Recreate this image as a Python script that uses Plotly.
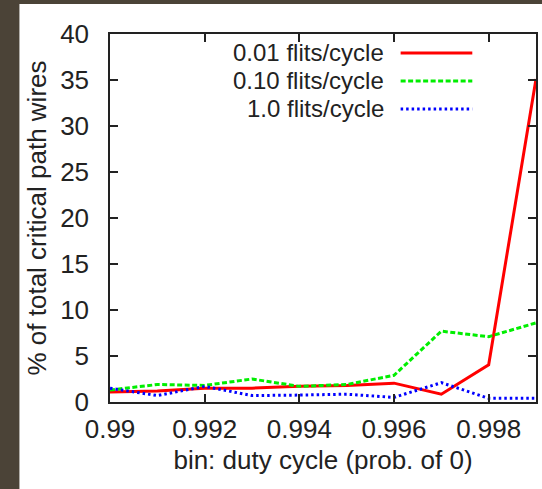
import plotly.graph_objects as go

duty_cycle = [0.990, 0.991, 0.992, 0.993, 0.994, 0.995, 0.996, 0.997, 0.998, 0.999]
s_001 = [1.1, 1.2, 1.5, 1.5, 1.7, 1.8, 2.05, 0.85, 4.05, 35.1]
s_010 = [1.3, 1.9, 1.8, 2.5, 1.7, 1.9, 2.9, 7.7, 7.1, 8.6]
s_100 = [1.5, 0.7, 1.7, 0.7, 0.75, 0.85, 0.5, 2.1, 0.4, 0.4]
names = ["0.01 flits/cycle", "0.10 flits/cycle", "1.0 flits/cycle"]
x_ticks = [0.990, 0.992, 0.994, 0.996, 0.998]
x_tick_text = ["0.99", "0.992", "0.994", "0.996", "0.998"]
y_ticks = [0, 5, 10, 15, 20, 25, 30, 35, 40]

colors = ["#ff0000", "#00ee00", "#0000ff"]
dashes = ["solid", "5px,2.5px", "2.5px,3px"]
series = [s_001, s_010, s_100]

FONT = "Liberation Sans, Arial, sans-serif"
FS = 26
LFS = 24
fig = go.Figure()
for name, ys, c, d in zip(names, series, colors, dashes):
    fig.add_trace(go.Scatter(x=duty_cycle, y=ys, mode="lines", name=name,
                             line=dict(color=c, width=3, dash=d), showlegend=False))

W, H = 542, 489
L, R, T, B = 110, 4, 34, 87
pw, ph = W - L - R, H - T - B

def px_x(p):
    return (p - L) / pw

def px_y(p):
    return (H - B - p) / ph

shapes = [dict(type="rect", xref="paper", yref="paper", layer="below",
               x0=px_x(19), x1=px_x(W + 5), y0=px_y(4), y1=px_y(H + 5),
               fillcolor="white", line=dict(width=0))]
annotations = []
rows = [53, 81, 109]
for name, c, d, ry in zip(names, colors, dashes, rows):
    annotations.append(dict(xref="paper", yref="paper", x=px_x(386), y=px_y(ry),
                            text=name, showarrow=False, xanchor="right", yanchor="middle",
                            height=27, valign="middle", borderpad=0,
                            font=dict(family=FONT, size=LFS, color="#222")))
    shapes.append(dict(type="line", xref="paper", yref="paper",
                       x0=px_x(402), x1=px_x(474), y0=px_y(ry), y1=px_y(ry),
                       line=dict(color=c, width=3, dash=d)))

axis_common = dict(showline=True, linecolor="#222", linewidth=1.5, mirror="ticks",
                   ticks="inside", ticklen=8, tickwidth=1.5, tickcolor="#222",
                   showgrid=False, zeroline=False,
                   tickfont=dict(family=FONT, size=FS, color="#222"))

fig.update_layout(
    width=W, height=H,
    margin=dict(l=L, r=R, t=T, b=B),
    paper_bgcolor="#4b4337", plot_bgcolor="white",
    xaxis=dict(range=[0.990, 0.999], tickvals=x_ticks, ticktext=x_tick_text,
               ticklabelstandoff=3,
               title=dict(text="bin: duty cycle (prob. of 0)", standoff=8,
                          font=dict(family=FONT, size=FS, color="#222")),
               **axis_common),
    yaxis=dict(range=[0, 40], tickvals=y_ticks, ticklabelstandoff=14,
               title=dict(text="% of total critical path wires", standoff=6,
                          font=dict(family=FONT, size=FS, color="#222")),
               **axis_common),
    shapes=shapes, annotations=annotations,
)
fig.write_html("out.html", config={"displayModeBar": False},
               post_script="document.body.style.margin='0px';")
